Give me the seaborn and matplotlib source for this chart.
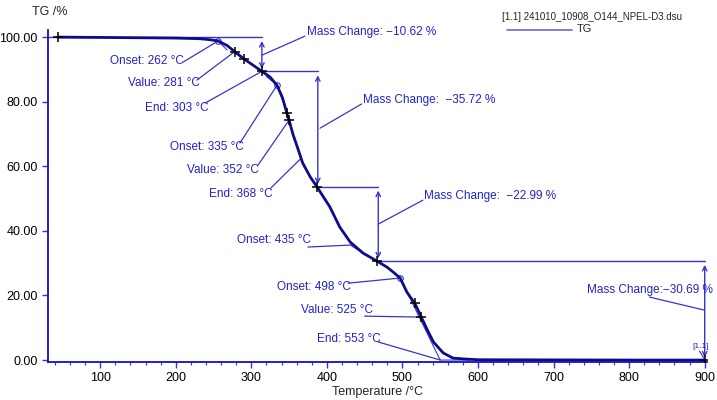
import numpy as np
import pandas as pd
import seaborn as sns
import matplotlib.pyplot as plt

# TG curve
temp = [44, 100, 150, 200, 232, 245, 256, 268, 278, 290, 303, 314, 325, 334, 341, 347, 350,
        355, 361, 368, 378, 387, 396, 404, 417, 431, 448, 466, 480, 488, 497, 506, 517, 525,
        533, 541, 554, 567, 585, 600, 700, 800, 900]
mass = [100, 99.9, 99.8, 99.7, 99.5, 99.2, 98.8, 97.4, 95.5, 93.3, 91.2, 89.4, 87.6, 85.1,
        81.4, 76.5, 74.3, 70.0, 65.9, 61.0, 56.7, 53.6, 50.3, 47.4, 41.2, 36.5, 33.1, 30.7,
        28.7, 27.2, 25.4, 21.0, 17.3, 13.3, 9.3, 5.6, 2.2, 0.6, 0.3, 0.1, 0.05, 0.0, 0.0]

# "+" marks on the curve
mark_t = [44, 278, 290, 314, 347, 350, 387, 466, 516, 525, 900]
mark_m = [100, 95.5, 93.3, 89.4, 76.5, 74.3, 53.6, 30.7, 17.6, 13.3, 0.0]

# onset circles
onset_t = [256, 334, 497]
onset_m = [98.8, 85.1, 25.4]

# mass change steps: temperature of arrow, upper level, lower level, label
step_t = [314, 388, 468, 900]
step_hi = [100.0, 89.38, 53.66, 30.67]
step_lo = [89.38, 53.66, 30.67, 0.0]
step_lab = ["Mass Change: \u221210.62 %", "Mass Change:  \u221235.72 %",
            "Mass Change:  \u221222.99 %", "Mass Change:\u221230.69 %"]
step_txt = [(374, 101.5), (448, 80.5), (529, 50.8), (744, 21.7)]
step_lead = [((314, 94.4), (371, 100.3)), ((391, 71.8), (446, 79.3)),
             ((468, 42.1), (527, 49.5)), ((899, 15.5), (827, 19.5))]

# point labels: text, text position, leader start, leader end
pt_lab = ["Onset: 262 \u00b0C", "Value: 281 \u00b0C", "End: 303 \u00b0C",
          "Onset: 335 \u00b0C", "Value: 352 \u00b0C", "End: 368 \u00b0C",
          "Onset: 435 \u00b0C", "Onset: 498 \u00b0C", "Value: 525 \u00b0C", "End: 553 \u00b0C"]
pt_txt = [(113, 92.6), (137, 85.8), (159, 78.0), (193, 65.9), (215, 58.8), (244, 51.4),
          (281, 37.2), (334, 22.6), (366, 15.5), (387, 6.5)]
pt_lead = [((210, 92.3), (256, 98.8)), ((228, 86.7), (278, 95.5)), ((239, 79.6), (314, 89.4)),
           ((285, 67.2), (334, 85.1)), ((309, 60.4), (350, 74.3)), ((326, 53.3), (366, 62.5)),
           ((375, 35.0), (431, 35.6)), ((428, 23.8), (497, 25.4)), ((450, 13.6), (525, 13.3)),
           ((468, 5.6), (550, 0.0))]

navy = "#0c0c8c"
blue = "#3535cc"
tblue = "#2323c8"

sns.set_style("ticks")
plt.rcParams["font.family"] = ["Liberation Sans", "DejaVu Sans"]

fig = plt.figure(figsize=(7.17, 4.0), dpi=100)
ax = fig.add_axes([0.067, 0.095, 0.919, 0.83])

df = pd.DataFrame({"T": temp, "TG": mass})
sns.lineplot(data=df, x="T", y="TG", color=navy, lw=2, ax=ax, zorder=5)
ax.plot(mark_t, mark_m, ls="none", marker="+", ms=7, mew=1.1, color="black", zorder=6)
ax.plot(onset_t, onset_m, ls="none", marker="o", ms=4, mfc="none", mew=0.8, color=blue, zorder=4)

# reference levels and arrows
for i in range(4):
    x0 = step_t[i - 1] if i > 0 else 31
    ax.plot([x0, step_t[i]], [step_hi[i], step_hi[i]], color=blue, lw=1)
    ax.annotate("", xy=(step_t[i], step_lo[i] + 0.8), xytext=(step_t[i], step_hi[i] - 1.2),
                arrowprops=dict(arrowstyle="<->", color=blue, lw=1, mutation_scale=8,
                                shrinkA=0, shrinkB=0), annotation_clip=False)
    (a, b), (c, d) = step_lead[i]
    ax.plot([a, c], [b, d], color=blue, lw=0.9, clip_on=False)
    ax.text(step_txt[i][0], step_txt[i][1], step_lab[i], color=tblue, fontsize=8.5,
            va="center", ha="left", clip_on=False)

for lab, (tx, ty), ((a, b), (c, d)) in zip(pt_lab, pt_txt, pt_lead):
    ax.plot([a, c], [b, d], color=blue, lw=0.9)
    ax.text(tx, ty, lab, color=tblue, fontsize=8.5, va="center", ha="left")

# onset tangents
ax.plot([431, 446], [35.6, 33.4], color=blue, lw=0.8)
ax.plot([497, 550, 590], [25.4, 0.0, 0.0], color=blue, lw=0.8)
ax.plot([236, 256, 268], [99.6, 98.8, 96.0], color=blue, lw=0.8)
ax.plot([320, 334, 342], [87.8, 85.1, 80.0], color=blue, lw=0.8)

ax.text(884, 4.2, "[1.1]", color=tblue, fontsize=6, ha="left", va="center")
ax.plot([893, 899], [2.8, 0.6], color=blue, lw=0.8)

ax.set_xlim(31, 903)
ax.set_ylim(-0.6, 102.2)
ax.set_xticks(range(100, 901, 100))
ax.set_xticks(range(40, 901, 20), minor=True)
ax.set_yticks(range(0, 101, 20))
ax.set_yticklabels([f"{v:.2f}" for v in range(0, 101, 20)])
ax.tick_params(axis="both", colors=blue, labelcolor="black", labelsize=9, length=4, width=1)
ax.tick_params(axis="x", which="minor", colors=blue, length=2.5, width=0.8)
ax.set_xlabel("Temperature /\u00b0C", fontsize=9, labelpad=1)
ax.set_ylabel("")
for s in ["left", "bottom"]:
    ax.spines[s].set_color("#1010c0")
    ax.spines[s].set_linewidth(1.3)
sns.despine(ax=ax, top=True, right=True)

fig.text(0.045, 0.97, "TG /%", fontsize=9, ha="left", va="center")
fig.text(0.700, 0.957, "[1.1] 241010_10908_O144_NPEL-D3.dsu", fontsize=7, ha="left", va="center")
fig.add_artist(plt.Line2D([0.707, 0.798], [0.925, 0.925], color="#6a6ad8", lw=1.2))
fig.text(0.805, 0.927, "TG", fontsize=8, ha="left", va="center")

fig.savefig("out.png", dpi=100)
